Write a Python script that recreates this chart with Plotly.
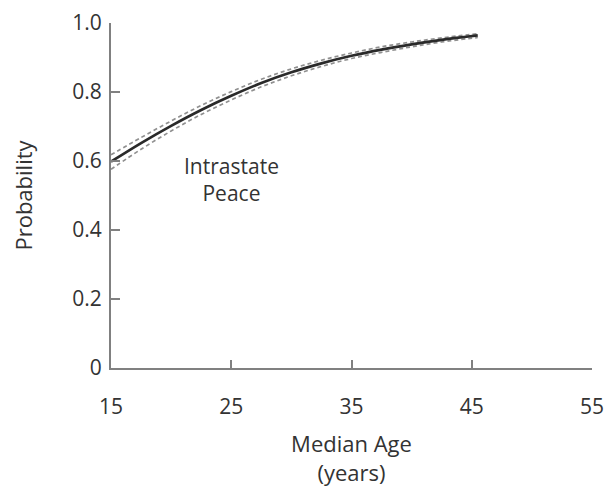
import plotly.graph_objects as go

# Data
median_age = [15, 17.5, 20, 22.5, 25, 27.5, 30, 32.5, 35, 37.5, 40, 42.5, 45.5]
prob_mean = [0.598, 0.652, 0.702, 0.748, 0.789, 0.826, 0.857, 0.883, 0.905, 0.923, 0.938, 0.951, 0.964]
prob_upper = [0.618, 0.668, 0.716, 0.761, 0.801, 0.837, 0.867, 0.892, 0.913, 0.931, 0.945, 0.957, 0.969]
prob_lower = [0.576, 0.634, 0.687, 0.735, 0.777, 0.815, 0.847, 0.874, 0.897, 0.915, 0.931, 0.945, 0.958]

x_ticks = [15, 25, 35, 45, 55]
y_ticks = [0, 0.2, 0.4, 0.6, 0.8, 1.0]
y_tick_labels = ["0", "0.2", "0.4", "0.6", "0.8", "1.0"]

FONT = "Open Sans"
TEXT = "#333333"
AXIS = "#808080"

fig = go.Figure()
for ys in (prob_upper, prob_lower):
    fig.add_trace(go.Scatter(x=median_age, y=ys, mode="lines",
                             line=dict(color="#909090", width=1.7, dash="4px,3px", shape="spline"),
                             showlegend=False, hoverinfo="skip"))
fig.add_trace(go.Scatter(x=median_age, y=prob_mean, mode="lines",
                         line=dict(color="#2a2a2a", width=2.7, shape="spline"),
                         showlegend=False))

fig.add_annotation(x=25.0, y=0.545, xref="x", yref="y", text="Intrastate<br>Peace",
                   showarrow=False, font=dict(family=FONT, size=21, color=TEXT),
                   align="center")

fig.update_layout(
    width=607, height=487,
    margin=dict(l=111, r=15, t=23, b=119, autoexpand=False),
    paper_bgcolor="white", plot_bgcolor="white",
    font=dict(family=FONT, size=21, color=TEXT),
    xaxis=dict(range=[15, 55], tickvals=x_ticks, ticktext=[str(v) for v in x_ticks],
               showgrid=False, zeroline=False, showline=True, linecolor=AXIS, linewidth=2,
               ticks="inside", ticklen=8, tickwidth=1.5, tickcolor=AXIS,
               ticklabelstandoff=19, automargin=False,
               title=dict(text="Median Age<br>(years)", standoff=28,
                          font=dict(family=FONT, size=22, color=TEXT))),
    yaxis=dict(range=[0, 1.0], tickvals=y_ticks, ticktext=y_tick_labels,
               showgrid=False, zeroline=False, showline=True, linecolor=AXIS, linewidth=2,
               ticks="inside", ticklen=9, tickwidth=1.5, tickcolor=AXIS,
               ticklabelstandoff=3, automargin=False,
               title=dict(text="Probability", standoff=34,
                          font=dict(family=FONT, size=22, color=TEXT))),
)

fig.write_html("out.html", config={"displayModeBar": False},
               post_script="document.body.style.margin='0';")
